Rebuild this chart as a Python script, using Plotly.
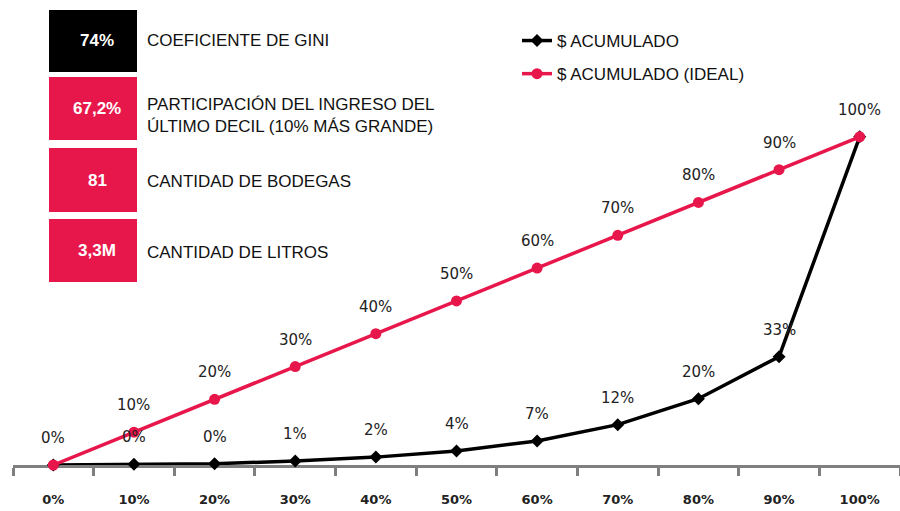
import plotly.graph_objects as go

# ---- data ----
categories = ["0%", "10%", "20%", "30%", "40%", "50%", "60%", "70%", "80%", "90%", "100%"]
acumulado = [0, 0.2, 0.4, 1.2, 2.4, 4.3, 7.3, 12.3, 20.2, 33, 100]
acumulado_labels = ["0%", "0%", "0%", "1%", "2%", "4%", "7%", "12%", "20%", "33%", "100%"]
ideal = [0, 10, 20, 30, 40, 50, 60, 70, 80, 90, 100]
ideal_labels = ["0%", "10%", "20%", "30%", "40%", "50%", "60%", "70%", "80%", "90%", "100%"]

box_values = ["74%", "67,2%", "81", "3,3M"]
box_labels = ["COEFICIENTE DE GINI",
              "PARTICIPACIÓN DEL INGRESO DEL<br>ÚLTIMO DECIL (10% MÁS GRANDE)",
              "CANTIDAD DE BODEGAS",
              "CANTIDAD DE LITROS"]

# ---- style ----
PINK = "#E8174B"
BLACK = "#000000"
AXIS_GRAY = "#7f7f7f"
W, H = 900, 511
ML, MR, MT, MB = 13, 0, 104, 46
PW, PH = W - ML - MR, H - MT - MB

def fx(px):
    return (px - ML) / PW

def fy(py):
    return (H - MB - py) / PH

fig = go.Figure()
fig.add_trace(go.Scatter(
    x=categories, y=acumulado, name="$ ACUMULADO", mode="lines+markers",
    line=dict(color=BLACK, width=3.5),
    marker=dict(symbol="diamond", size=10, color=BLACK),
    cliponaxis=False, legendgroup="a", hoverinfo="skip"))
fig.add_trace(go.Scatter(
    x=categories, y=ideal, name="$ ACUMULADO (IDEAL)", mode="lines+markers",
    line=dict(color=PINK, width=3.5),
    marker=dict(symbol="circle", size=11, color=PINK),
    cliponaxis=False, legendgroup="b", hoverinfo="skip"))

annotations = []
label_font = dict(family="DejaVu Sans", size=15, color="#222222")
for c, v, t in zip(categories, acumulado, acumulado_labels):
    annotations.append(dict(x=c, y=v, text=t, showarrow=False, yshift=27,
                            font=label_font, xref="x", yref="y"))
for c, v, t, va in zip(categories, ideal, ideal_labels, acumulado):
    if v == va:
        continue  # same point and label already drawn
    annotations.append(dict(x=c, y=v, text=t, showarrow=False, yshift=27,
                            font=label_font, xref="x", yref="y"))

# ---- info boxes ----
box_colors = [BLACK, PINK, PINK, PINK]
box_rows = [(10, 72), (77, 140), (148, 212), (219, 282)]
label_centers = [41, 115, 181, 253]
shapes = []
for (y0, y1), col, val, lab, lc in zip(box_rows, box_colors, box_values, box_labels, label_centers):
    shapes.append(dict(type="rect", xref="paper", yref="paper",
                       x0=fx(49), x1=fx(137), y0=fy(y1), y1=fy(y0),
                       fillcolor=col, line=dict(width=0), layer="above"))
    annotations.append(dict(xref="paper", yref="paper", x=fx(97), y=fy((y0 + y1) / 2),
                            text="<b>" + val + "</b>", showarrow=False,
                            xanchor="center", yanchor="middle",
                            font=dict(family="Liberation Sans", size=17, color="white")))
    annotations.append(dict(xref="paper", yref="paper", x=fx(145), y=fy(lc),
                            text=lab, showarrow=False, align="left",
                            xanchor="left", yanchor="middle",
                            font=dict(family="Liberation Sans", size=17, color="#111111")))

fig.update_layout(
    width=W, height=H,
    margin=dict(l=ML, r=MR, t=MT, b=MB, pad=0),
    paper_bgcolor="white", plot_bgcolor="white",
    showlegend=True,
    legend=dict(x=fx(517), y=fy(23), xanchor="left", yanchor="top",
                font=dict(family="Liberation Sans", size=17, color="#111111"),
                tracegroupgap=8, bgcolor="rgba(0,0,0,0)", traceorder="grouped"),
    xaxis=dict(type="category", range=[-0.5, 10.5], tickson="boundaries",
               showline=True, linecolor=AXIS_GRAY, linewidth=3,
               ticks="outside", ticklen=8, tickwidth=3, tickcolor=AXIS_GRAY,
               showgrid=False, zeroline=False, layer="below traces",
               ticklabelstandoff=20,
               tickfont=dict(family="DejaVu Sans", size=13, color="#222222", weight="bold")),
    yaxis=dict(range=[0, 110], visible=False, showgrid=False, zeroline=False),
    annotations=annotations, shapes=shapes,
)

fig.write_html("out.html", config={"displayModeBar": False},
               post_script="document.body.style.margin='0';")
